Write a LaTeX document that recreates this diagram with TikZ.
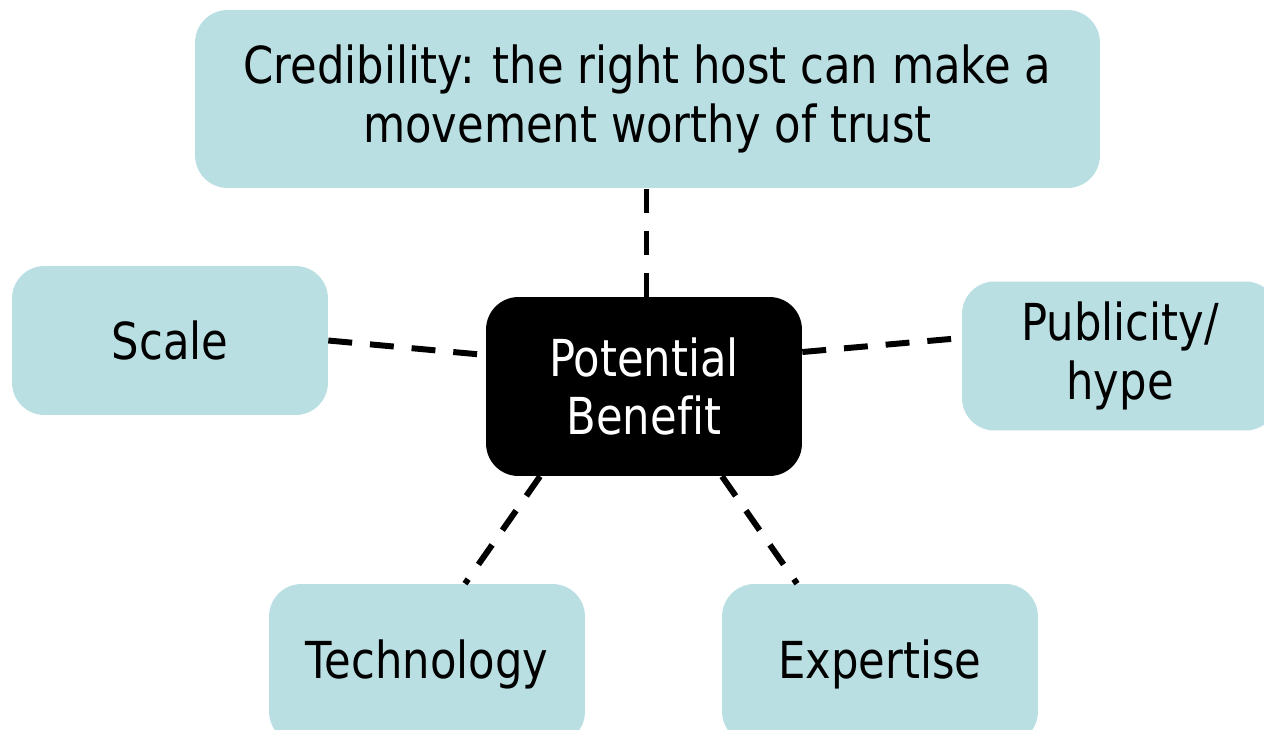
\documentclass[tikz,border=0pt]{standalone}
\usepackage{fontspec}
\setmainfont{DejaVu Sans}[FakeStretch=0.85,Ligatures=NoCommon]
\definecolor{boxblue}{RGB}{186,223,226}

\begin{document}
\begin{tikzpicture}[x=0.02cm,y=-0.02cm,
    idea/.style={fill=boxblue,rounded corners=0.65cm,align=center,inner sep=0pt,
      minimum width=6.32cm,minimum height=2.98cm,font=\fontsize{29}{33.5}\selectfont},
    link/.style={line width=3.4pt,dash pattern=on 13.6pt off 10.2pt}]
    \useasboundingbox (0,0) rectangle (1264,730);
    \clip (0,0) rectangle (1264,730);
    % boxes
    \node[idea,minimum width=18.1cm,minimum height=3.56cm] (cred) at (647.5,99)
        {Credibility: the right host can make a\\movement worthy of trust};
    \node[idea,fill=black,text=white,minimum height=3.58cm] (ben) at (644,386.5)
        {Potential\\Benefit};
    \node[idea] (scale) at (170,340.5) {Scale};
    \node[idea] (pub) at (1120,356) {Publicity/\\hype};
    \node[idea,minimum height=3.2cm] (tech) at (427,664) {Technology};
    \node[idea,minimum height=3.2cm] (exp) at (880,664) {Expertise};
    % dashed links
    \draw[link] ([xshift=0.05cm]ben.north) -- ([xshift=0.05cm]ben.north |- cred.south);
    \draw[link] (scale.east) -- ([yshift=0.63cm]ben.west);
    \draw[link] ([yshift=0.69cm]ben.east) -- ([yshift=0.36cm]pub.west);
    \draw[link] ([xshift=-2.08cm]ben.south) -- ([xshift=0.76cm]tech.north);
    \draw[link] ([xshift=1.56cm]ben.south) -- ([xshift=-1.66cm]exp.north);
\end{tikzpicture}
\end{document}
